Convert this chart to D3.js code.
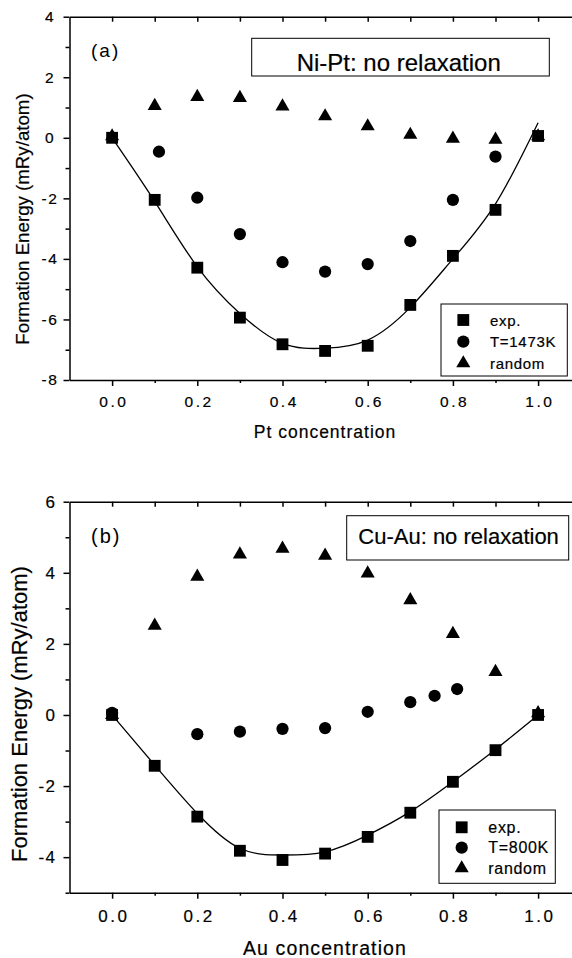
<!DOCTYPE html>
<html>
<head>
<meta charset="utf-8">
<script src="https://cdn.jsdelivr.net/npm/d3@7"></script>
<style>
body { margin: 0; background: #fff; }
svg { display: block; font-family: "Liberation Sans", Arial, Helvetica, sans-serif; }
svg text { stroke: #000; stroke-width: 0.2px; }
svg text.tag { stroke: none; }
</style>
</head>
<body>
<svg id="chart" width="572" height="958"></svg>
<script>
// concentrations used by the exp. and random series and the fitted curves
var conc = [0.0, 0.1, 0.2, 0.3, 0.4, 0.5, 0.6, 0.7, 0.8, 0.9, 1.0];

// (a) Ni-Pt
var niptExp    = [0, -2.05, -4.29, -5.94, -6.82, -7.04, -6.87, -5.52, -3.90, -2.38, 0.06];
var niptFit    = [0, -2.10, -4.26, -5.80, -6.79, -6.95, -6.68, -5.60, -4.00, -2.18, 0.50];
var niptOrdX   = [0.11, 0.2, 0.3, 0.4, 0.5, 0.6, 0.7, 0.8, 0.9];
var niptOrd    = [-0.46, -1.98, -3.18, -4.11, -4.42, -4.17, -3.41, -2.05, -0.62];
var niptRandom = [0.05, 1.05, 1.35, 1.32, 1.04, 0.71, 0.38, 0.10, -0.03, -0.06, 0.05];
var niptYTicks = [4, 2, 0, -2, -4, -6, -8];
var niptYMinor = [3, 1, -1, -3, -5, -7];
var niptLegend = ['exp.', 'T=1473K', 'random'];

// (b) Cu-Au
var cuauExp    = [0, -1.43, -2.86, -3.82, -4.08, -3.90, -3.43, -2.75, -1.88, -0.99, 0];
var cuauFit    = [0, -1.41, -2.77, -3.75, -3.94, -3.85, -3.38, -2.72, -1.88, -0.97, 0];
var cuauOrdX   = [0.0, 0.2, 0.3, 0.4, 0.5, 0.6, 0.7, 0.757, 0.81];
var cuauOrd    = [0.06, -0.54, -0.47, -0.39, -0.37, 0.09, 0.36, 0.54, 0.73];
var cuauRandom = [0, 2.51, 3.89, 4.52, 4.68, 4.48, 3.98, 3.23, 2.28, 1.21, 0.05];
var cuauYTicks = [6, 4, 2, 0, -2, -4];
var cuauYMinor = [5, 3, 1, -1, -3, -5];
var cuauLegend = ['exp.', 'T=800K', 'random'];

var xMajor = [0.0, 0.2, 0.4, 0.6, 0.8, 1.0];
var xMinor = [0.1, 0.3, 0.5, 0.7, 0.9];

var svg = d3.select('#chart');
svg.append('rect').attr('width', 572).attr('height', 958).attr('fill', '#fff');

var symSquare = d3.symbol().type(d3.symbolSquare).size(140);
var symCircle = d3.symbol().type(d3.symbolCircle).size(118);
var symTriangle = d3.symbol().type(d3.symbolTriangle).size(86);
var hyphen = function(d){ return d < 0 ? '-' + Math.abs(d) : '' + d; };

function drawPanel(p) {
   var x = d3.scaleLinear().domain([-0.1, 1.1]).range([69.5, 69.5 + 12 * 42.6]);
   var y = d3.scaleLinear().domain(p.yDomain).range(p.yRange);
   var g = svg.append('g');
   var yTop = p.yRange[1], yBot = p.yRange[0];

   // top frame with inward ticks
   g.append('g').attr('transform', 'translate(0,' + yTop + ')')
    .call(d3.axisTop(x).tickValues(xMajor.concat(xMinor)).tickSize(-5).tickSizeOuter(0).tickFormat(''));

   // bottom axis
   g.append('g').attr('transform', 'translate(0,' + yBot + ')')
    .call(d3.axisBottom(x).tickValues(xMinor).tickSize(3).tickSizeOuter(0).tickFormat(''));
   var xb = g.append('g').attr('transform', 'translate(0,' + yBot + ')')
    .call(d3.axisBottom(x).tickValues(xMajor).tickSize(6).tickSizeOuter(0)
      .tickPadding(p.xPad).tickFormat(d3.format('.1f')));
   xb.select('.domain').remove();
   xb.selectAll('text').style('font-size', p.tickFs + 'px').style('letter-spacing', p.tickLs + 'px')
     .attr('dx', p.tickLs / 2);

   // left axis
   g.append('g').attr('transform', 'translate(69.5,0)')
    .call(d3.axisLeft(y).tickValues(p.yMinor).tickSize(4).tickSizeOuter(0).tickFormat(''));
   var yl = g.append('g').attr('transform', 'translate(69.5,0)')
    .call(d3.axisLeft(y).tickValues(p.yTicks).tickSize(6).tickSizeOuter(0).tickFormat(hyphen));
   yl.select('.domain').remove();
   yl.selectAll('text').style('font-size', p.tickFs + 'px').style('letter-spacing', '1.5px')
     .attr('x', p.yLabX).attr('text-anchor', p.yLabAnchor);

   g.selectAll('g').attr('font-family', null).attr('font-size', null);
   g.selectAll('.domain, .tick line').attr('stroke', '#000').attr('stroke-width', 1.5);
   g.selectAll('.tick text').attr('fill', '#000');

   // fitted curve through the exp. values
   g.append('path')
    .datum(d3.zip(conc, p.fit))
    .attr('fill', 'none').attr('stroke', '#000').attr('stroke-width', 1.3)
    .attr('d', d3.line().x(function(d){return x(d[0]);}).y(function(d){return y(d[1]);}).curve(d3.curveNatural));

   g.selectAll('.rnd').data(d3.zip(conc, p.random)).enter()
    .append('path').attr('class', 'rnd').attr('d', symTriangle)
    .attr('transform', function(d){return 'translate(' + x(d[0]) + ',' + y(d[1]) + ')';});
   g.selectAll('.ord').data(d3.zip(p.ordX, p.ord)).enter()
    .append('path').attr('class', 'ord').attr('d', symCircle)
    .attr('transform', function(d){return 'translate(' + x(d[0]) + ',' + y(d[1]) + ')';});
   g.selectAll('.exp').data(d3.zip(conc, p.exp)).enter()
    .append('path').attr('class', 'exp').attr('d', symSquare)
    .attr('transform', function(d){return 'translate(' + x(d[0]) + ',' + y(d[1]) + ')';});

   // axis titles
   g.append('text').attr('x', 325).attr('y', p.xTitleY).attr('text-anchor', 'middle')
    .style('font-size', p.xTitleFs + 'px').style('letter-spacing', p.xTitleLs + 'px')
    .text(p.xTitle);
   g.append('text').attr('transform', 'translate(' + p.yTitleX + ',' + p.yTitleY + ') rotate(-90)')
    .attr('text-anchor', 'middle').style('font-size', p.yTitleFs + 'px')
    .text('Formation Energy (mRy/atom)');

   // panel tag and title box
   g.append('text').attr('class', 'tag').attr('x', 91).attr('y', p.tagY).style('font-size', p.tagFs + 'px')
    .style('letter-spacing', '2px').text(p.tag);
   g.append('rect').attr('x', p.box[0]).attr('y', p.box[1]).attr('width', p.box[2]).attr('height', p.box[3])
    .attr('fill', '#fff').attr('stroke', '#000').attr('stroke-width', 1);
   g.append('text').attr('x', p.titleX).attr('y', p.titleY).style('font-size', p.titleFs + 'px')
    .text(p.title);

   // legend
   var lg = p.legend;
   g.append('rect').attr('x', lg.x).attr('y', lg.y).attr('width', lg.w).attr('height', lg.h)
    .attr('fill', '#fff').attr('stroke', '#000').attr('stroke-width', 1);
   var syms = [symSquare, symCircle, symTriangle];
   p.legendNames.forEach(function(name, i){
      var ry = lg.rows[i];
      g.append('path').attr('d', syms[i]).attr('transform', 'translate(' + lg.mx + ',' + ry + ')');
      g.append('text').attr('x', lg.tx).attr('y', ry + 5.6).style('font-size', lg.fs + 'px')
       .style('letter-spacing', '0.7px').text(name);
   });
}

drawPanel({
   yDomain: [-8, 4], yRange: [380, 16.7],
   yTicks: niptYTicks, yMinor: niptYMinor,
   exp: niptExp, fit: niptFit, ordX: niptOrdX, ord: niptOrd, random: niptRandom,
   tickFs: 15.5, tickLs: 2.5, xPad: 9.7, yLabX: -19.5, yLabAnchor: 'middle',
   xTitle: 'Pt concentration', xTitleY: 438, xTitleFs: 17.5, xTitleLs: 1,
   yTitleX: 29, yTitleY: 219, yTitleFs: 18.7,
   tag: '(a)', tagY: 57, tagFs: 19,
   box: [251.7, 38.3, 297.6, 37.7], title: 'Ni-Pt: no relaxation', titleX: 296.7, titleY: 70.5, titleFs: 24,
   legendNames: niptLegend,
   legend: {x: 441, y: 304, w: 126.3, h: 72, mx: 463.3, tx: 490, rows: [320, 341.7, 363.3], fs: 15}
});

drawPanel({
   yDomain: [-5, 6], yRange: [892.7, 501.7],
   yTicks: cuauYTicks, yMinor: cuauYMinor,
   exp: cuauExp, fit: cuauFit, ordX: cuauOrdX, ord: cuauOrd, random: cuauRandom,
   tickFs: 17, tickLs: 2.5, xPad: 11.6, yLabX: -13, yLabAnchor: 'end',
   xTitle: 'Au concentration', xTitleY: 955, xTitleFs: 19.5, xTitleLs: 1.1,
   yTitleX: 27, yTitleY: 714, yTitleFs: 22,
   tag: '(b)', tagY: 543, tagFs: 20,
   box: [346.7, 515.7, 222, 44.3], title: 'Cu-Au: no relaxation', titleX: 358.3, titleY: 544, titleFs: 22,
   legendNames: cuauLegend,
   legend: {x: 439, y: 810, w: 116.3, h: 73.3, mx: 461.7, tx: 488.3, rows: [827.3, 847.7, 868.3], fs: 16}
});
</script>
</body>
</html>
